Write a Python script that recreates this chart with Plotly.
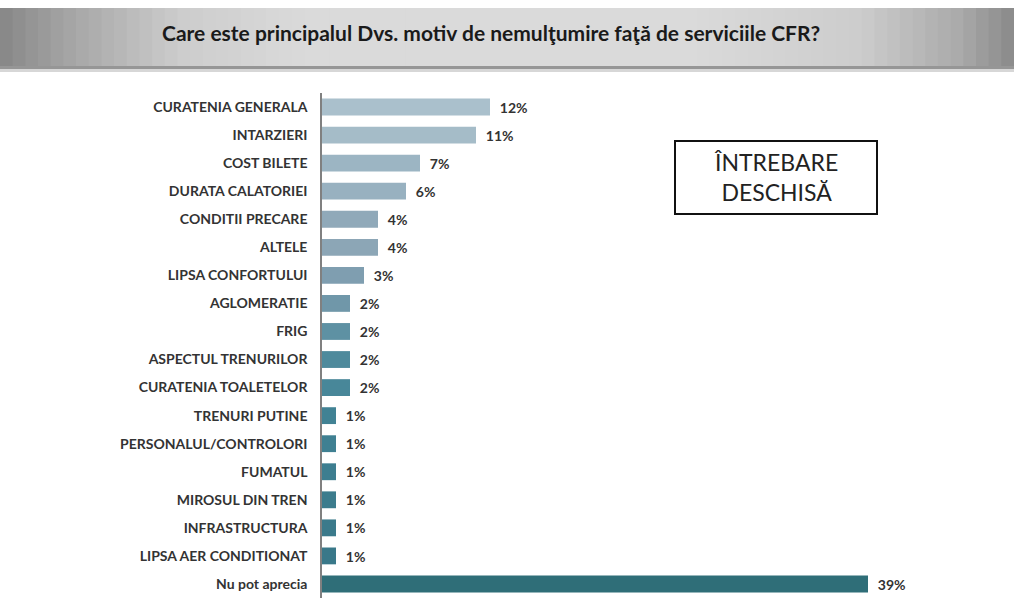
import plotly.graph_objects as go

categories = ["CURATENIA GENERALA", "INTARZIERI", "COST BILETE", "DURATA CALATORIEI",
              "CONDITII PRECARE", "ALTELE", "LIPSA CONFORTULUI", "AGLOMERATIE", "FRIG",
              "ASPECTUL TRENURILOR", "CURATENIA TOALETELOR", "TRENURI PUTINE",
              "PERSONALUL/CONTROLORI", "FUMATUL", "MIROSUL DIN TREN", "INFRASTRUCTURA",
              "LIPSA AER CONDITIONAT", "Nu pot aprecia"]
values = [12, 11, 7, 6, 4, 4, 3, 2, 2, 2, 2, 1, 1, 1, 1, 1, 1, 39]
bar_colors = ["#AAC0CC", "#A5BCC8", "#9CB5C3", "#98B1C0", "#90A9B9", "#8CA6B6",
              "#7F9EB0", "#7097A9", "#5E91A3", "#4E8A9C", "#488799", "#418294",
              "#3F8092", "#3D7E90", "#3C7C8D", "#3B7A8B", "#397889", "#2F6E78"]
title_text = "Care este principalul Dvs. motiv de nemulţumire faţă de serviciile CFR?"
box_text = "ÎNTREBARE<br>DESCHISĂ"

W, H = 1014, 606
L, R, T, B = 322, 1008, 93, 598

def px(x):
    return (x - L) / (R - L)

def py(y):
    return (B - y) / (B - T)

fig = go.Figure(go.Bar(
    y=categories, x=values, orientation="h",
    marker=dict(color=bar_colors, line=dict(width=0)),
    text=[f"  {v}%" for v in values], textposition="outside",
    textfont=dict(family="Lato", size=15, color="#333333", weight="bold"),
    cliponaxis=False, width=0.6,
))

shapes = []
def banner_color(x):
    stops = [(0, 135), (60, 162), (180, 205), (300, 218), (700, 218), (860, 205), (960, 170), (1014, 138)]
    for (x0, c0), (x1, c1) in zip(stops, stops[1:]):
        if x0 <= x <= x1:
            t = (x - x0) / (x1 - x0)
            return int(c0 + (c1 - c0) * t)
    return 140

n = 80
step = W / n
for i in range(n):
    x0 = i * step
    x1 = x0 + step + 0.8
    c = banner_color(x0 + step / 2)
    shapes.append(dict(type="rect", xref="paper", yref="paper",
                       x0=px(x0), x1=px(x1), y0=py(66), y1=py(8),
                       fillcolor=f"rgb({c},{c},{c})", line=dict(width=0), layer="below"))
shapes.append(dict(type="rect", xref="paper", yref="paper", x0=px(0), x1=px(W),
                   y0=py(69), y1=py(66), fillcolor="rgb(150,150,150)", line=dict(width=0), layer="below"))
shapes.append(dict(type="rect", xref="paper", yref="paper", x0=px(0), x1=px(W),
                   y0=py(72), y1=py(69), fillcolor="rgb(215,215,215)", line=dict(width=0), layer="below"))
shapes.append(dict(type="rect", xref="paper", yref="paper", x0=px(675), x1=px(877),
                   y0=py(214), y1=py(141), fillcolor="white", line=dict(color="#111111", width=2)))

annotations = [
    dict(text=f"<b>{title_text}</b>", xref="paper", yref="paper", x=px(491), y=py(33),
         showarrow=False, font=dict(family="Lato", size=21, color="#1a1a1a"),
         xanchor="center", yanchor="middle"),
    dict(text=box_text, xref="paper", yref="paper", x=px(776), y=py(177),
         showarrow=False, font=dict(family="Lato", size=23, color="#222222"),
         xanchor="center", yanchor="middle", align="center"),
]

fig.update_layout(
    width=W, height=H,
    margin=dict(l=L, r=W - R, t=T, b=H - B, pad=0),
    paper_bgcolor="white", plot_bgcolor="white",
    showlegend=False,
    shapes=shapes, annotations=annotations,
    xaxis=dict(range=[0, 49], visible=False, fixedrange=True),
    yaxis=dict(autorange="reversed", showline=True, linecolor="#808080", linewidth=1.5,
               ticks="", showgrid=False, zeroline=False, fixedrange=True,
               tickfont=dict(family="Lato", size=14, color="#333333", weight="bold"),
               ticklabelstandoff=10),
)

fig.write_html("out.html", config={"displayModeBar": False},
               post_script="document.body.style.margin='0';")
